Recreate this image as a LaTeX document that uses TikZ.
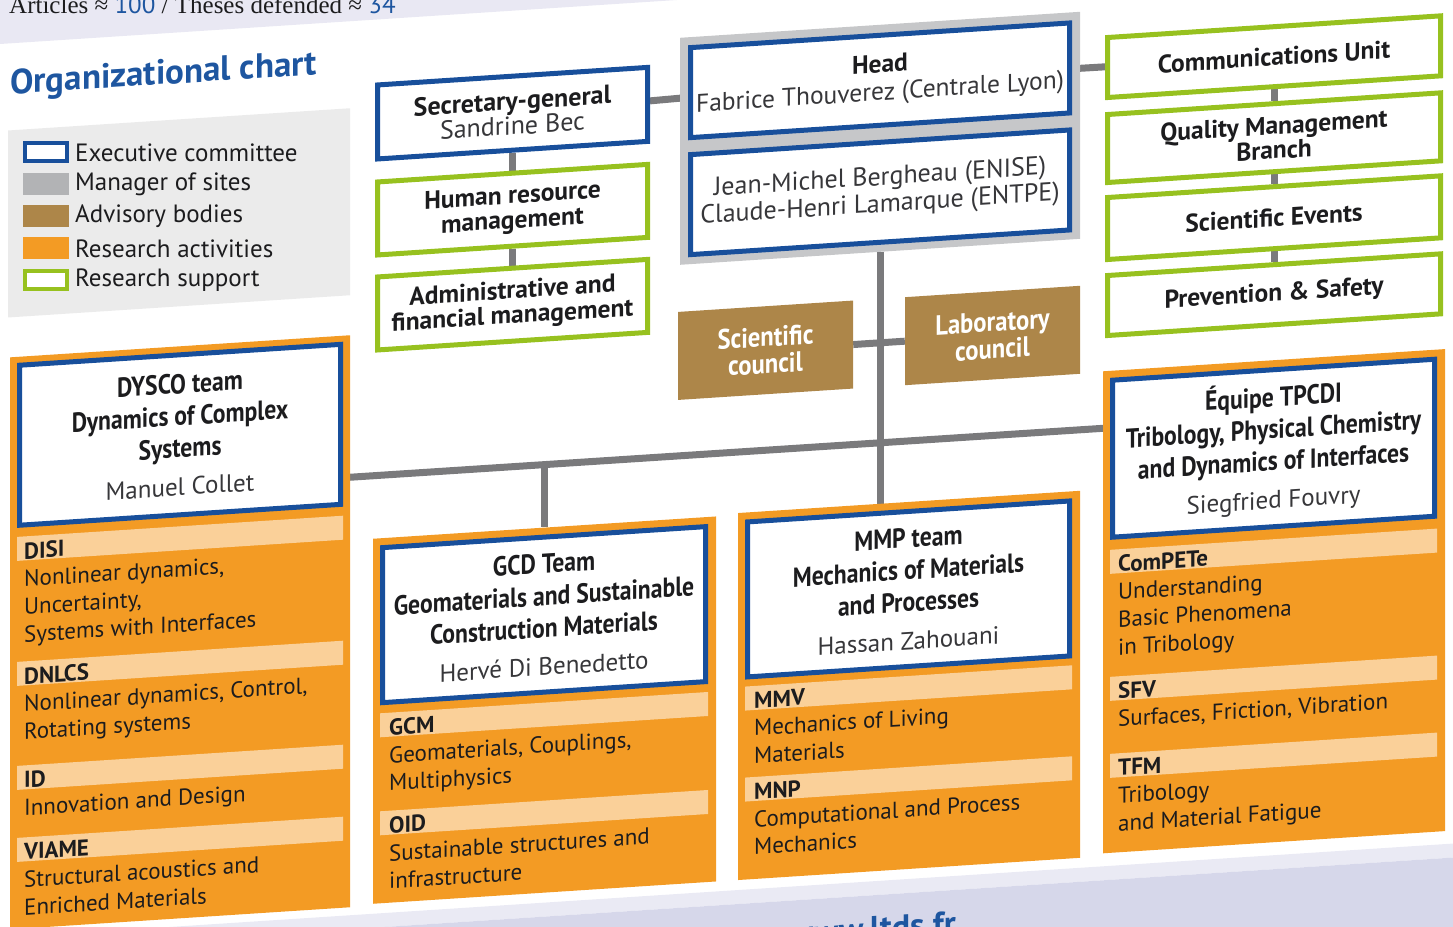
\documentclass[tikz,border=0pt]{standalone}
\usepackage{fontspec}
\setmainfont{PT Sans}
\newfontfamily\condfont{PT Sans}[FakeStretch=0.86]
\newfontfamily\headfont{PT Sans}[FakeStretch=0.88]
\newfontfamily\pageserif{Liberation Serif}
\usetikzlibrary{backgrounds}

\definecolor{ltdsblue}{RGB}{24,79,155}
\definecolor{titleblue}{RGB}{30,86,160}
\definecolor{supgreen}{RGB}{151,193,31}
\definecolor{sitegray}{RGB}{198,199,201}
\definecolor{siteswatch}{RGB}{178,179,181}
\definecolor{advbrown}{RGB}{173,134,73}
\definecolor{resorange}{RGB}{243,155,36}
\definecolor{bandorange}{RGB}{250,208,153}
\definecolor{linkgray}{RGB}{122,122,124}
\definecolor{legendbg}{RGB}{235,235,235}
\definecolor{topband}{RGB}{233,232,243}
\definecolor{botlight}{RGB}{234,234,244}
\definecolor{botband}{RGB}{214,215,234}
\definecolor{inkdark}{RGB}{28,28,30}
\definecolor{namegray}{RGB}{55,55,58}

\newcommand{\personfont}{\normalfont\fontsize{25}{30}\selectfont\color{namegray}}

\tikzset{
  execbox/.style={draw=ltdsblue, line width=5pt, fill=white, align=center, text=inkdark, inner sep=0pt},
  supbox/.style={draw=supgreen, line width=5pt, fill=white, align=center, text=inkdark, inner sep=0pt,
    font=\bfseries\fontsize{25.5}{25}\selectfont},
  advbox/.style={fill=advbrown, text=white, align=center, inner sep=0pt, minimum width=175pt,
    minimum height=88pt, font=\headfont\bfseries\fontsize{28}{27}\selectfont},
  teampanel/.style={fill=resorange, inner sep=0pt},
  teambox/.style={execbox, font=\condfont\bfseries\fontsize{27.5}{32}\selectfont},
  teamband/.style={fill=bandorange, inner sep=0pt, minimum height=24pt},
  teamtext/.style={anchor=north west, align=left, inner sep=0pt, text=inkdark,
    font=\fontsize{23}{27.7}\selectfont},
  swatch/.style={minimum width=46pt, minimum height=22pt, inner sep=0pt},
  legendtext/.style={anchor=west, inner sep=0pt, text=inkdark, font=\fontsize{25}{27}\selectfont},
  link/.style={draw=linkgray, line width=7pt},
}

\begin{document}
\begin{tikzpicture}[x=1pt, y=-1pt]
  \useasboundingbox (0,0) rectangle (1453,926);
  \clip (0,0) rectangle (1453,926);

  \begin{scope}[yslant=0.065, transform shape]
    % page bands
    \fill[topband] (0,-120) rectangle (1453,44);
    \fill[botlight] (0,938) rectangle (1453,952);
    \fill[botband] (0,952) rectangle (1453,1100);
    \node[anchor=base, inner sep=0pt, text=titleblue, font=\bfseries\fontsize{34}{36}\selectfont] (web) at (872,997) {www.ltds.fr};

    % title and legend panel
    \node[anchor=base west, inner sep=0pt, text=titleblue, font=\bfseries\fontsize{35}{36}\selectfont] (title) at (10,95) {Organizational chart};
    \fill[legendbg] (8,131) rectangle (350,318);

    % secretary and support
    \node[execbox, minimum width=270pt, minimum height=74pt, font=\fontsize{26}{25}\selectfont] (sec) at (512.5,146.5) {\textbf{Secretary-general}\\{\color{namegray}Sandrine Bec}};
    \node[supbox, minimum width=270pt, minimum height=73pt] (hrm) at (512.5,243) {Human resource\\management};
    \node[supbox, minimum width=270pt, minimum height=73pt] (afm) at (512.5,338) {Administrative and\\financial management};

    % head
    \node[fill=sitegray, inner sep=0pt, minimum width=400pt, minimum height=227pt] (headgrp) at (880,195.5) {};
    \node[execbox, minimum width=379pt, minimum height=90pt, font=\fontsize{25.5}{28}\selectfont] (head) at (880,137.5) {\textbf{Head}\\{\color{namegray}Fabrice Thouverez (Centrale Lyon)}};
    \node[execbox, minimum width=379pt, minimum height=100pt, font=\fontsize{26}{27}\selectfont, text=namegray] (deputy) at (880,249.5) {Jean-Michel Bergheau (ENISE)\\Claude-Henri Lamarque (ENTPE)};

    % councils
    \node[advbox] (scicl) at (765.5,400) {Scientific\\council};
    \node[advbox] (labcl) at (992.5,400) {Laboratory\\council};

    % right support column
    \node[supbox, minimum width=333pt, minimum height=60pt] (comm) at (1274,139.5) {Communications Unit};
    \node[supbox, minimum width=333pt, minimum height=68pt, font=\bfseries\fontsize{25.5}{22}\selectfont] (qual) at (1274,220.5) {Quality Management\\Branch};
    \node[supbox, minimum width=333pt, minimum height=62pt] (events) at (1274,300.5) {Scientific Events};
    \node[supbox, minimum width=333pt, minimum height=60pt] (safety) at (1274,377.5) {Prevention \& Safety};

    % DYSCO
    \node[teampanel, minimum width=340pt, minimum height=572pt] (dysco) at (180,644) {};
    \node[teambox, minimum width=321pt, minimum height=160pt] (dysco box) at (180,446.5) {DYSCO team\\Dynamics of Complex\\Systems\\[6pt]\personfont Manuel Collet};
    \node[teamband, minimum width=326pt] (disi band) at (180,550) {};
    \node[teamband, minimum width=326pt] (dnlcs band) at (180,675) {};
    \node[teamband, minimum width=326pt] (id band) at (180,779) {};
    \node[teamband, minimum width=326pt] (viame band) at (180,851) {};
    \node[teamtext] (disi) at (24,544) {\textbf{DISI}\\Nonlinear dynamics,\\Uncertainty,\\Systems with Interfaces};
    \node[teamtext] (dnlcs) at (24,669) {\textbf{DNLCS}\\Nonlinear dynamics, Control,\\Rotating systems};
    \node[teamtext] (id) at (24,773) {\textbf{ID}\\Innovation and Design};
    \node[teamtext] (viame) at (24,845) {\textbf{VIAME}\\Structural acoustics and\\Enriched Materials};

    % GCD
    \node[teampanel, minimum width=343pt, minimum height=365pt] (gcd) at (544.5,745.5) {};
    \node[teambox, minimum width=323pt, minimum height=155pt] (gcd box) at (544,650) {GCD Team\\Geomaterials and Sustainable\\Construction Materials\\[6pt]\personfont Herv\'e Di Benedetto};
    \node[teamband, minimum width=328pt] (gcm band) at (544,750) {};
    \node[teamband, minimum width=328pt] (oid band) at (544,848) {};
    \node[teamtext] (gcm) at (389,744) {\textbf{GCM}\\Geomaterials, Couplings,\\Multiphysics};
    \node[teamtext] (oid) at (389,842) {\textbf{OID}\\Sustainable structures and\\infrastructure};

    % MMP
    \node[teampanel, minimum width=342pt, minimum height=367pt] (mmp) at (909,744.5) {};
    \node[teambox, minimum width=322pt, minimum height=155pt] (mmp box) at (908.5,648) {MMP team\\Mechanics of Materials\\and Processes\\[6pt]\personfont Hassan Zahouani};
    \node[teamband, minimum width=327pt] (mmv band) at (908.5,747) {};
    \node[teamband, minimum width=327pt] (mnp band) at (908.5,838) {};
    \node[teamtext] (mmv) at (754,741) {\textbf{MMV}\\Mechanics of Living\\Materials};
    \node[teamtext] (mnp) at (754,832) {\textbf{MNP}\\Computational and Process\\Mechanics};

    % TPCDI
    \node[teampanel, minimum width=342pt, minimum height=482pt] (tpcdi) at (1274,684) {};
    \node[teambox, minimum width=322pt, minimum height=157pt] (tpcdi box) at (1273.5,531) {\'Equipe TPCDI\\Tribology, Physical Chemistry\\and Dynamics of Interfaces\\[6pt]\personfont Siegfried Fouvry};
    \node[teamband, minimum width=327pt] (compete band) at (1273.5,634) {};
    \node[teamband, minimum width=327pt] (sfv band) at (1273.5,761) {};
    \node[teamband, minimum width=327pt] (tfm band) at (1273.5,838) {};
    \node[teamtext] (compete) at (1118,628) {\textbf{ComPETe}\\Understanding\\Basic Phenomena\\in Tribology};
    \node[teamtext] (sfv) at (1118,755) {\textbf{SFV}\\Surfaces, Friction, Vibration};
    \node[teamtext] (tfm) at (1118,832) {\textbf{TFM}\\Tribology\\and Material Fatigue};

    \coordinate (bus west) at (180,500);
    \coordinate (bus east) at (1274,500);
    \coordinate (bus gcd) at (544.5,500);

    % links
    \begin{pgfonlayer}{background}
      \draw[link] (sec) -- (head);
      \draw[link] (sec) -- (hrm);
      \draw[link] (hrm) -- (afm);
      \draw[link] (head) -- (comm);
      \draw[link] (comm) -- (qual);
      \draw[link] (qual) -- (events);
      \draw[link] (events) -- (safety);
      \draw[link] (scicl) -- (labcl);
      \draw[link] (headgrp) -- (headgrp |- mmp);
      \draw[link] (bus west) -- (bus east);
      \draw[link] (bus gcd) -- (gcd);
    \end{pgfonlayer}
  \end{scope}

  % legend entries (not slanted)
  \node[swatch, draw=ltdsblue, line width=4pt, fill=white, minimum width=42pt, minimum height=18pt] (lg exec) at (46,151.5) {};
  \node[swatch, fill=siteswatch] (lg site) at (46,183.5) {};
  \node[swatch, fill=advbrown] (lg adv) at (46,215.5) {};
  \node[swatch, fill=resorange] (lg res) at (46,247.5) {};
  \node[swatch, draw=supgreen, line width=4pt, fill=white, minimum width=42pt, minimum height=18pt] (lg sup) at (46,279.5) {};
  \node[legendtext] (lt exec) at (75,152.5) {Executive committee};
  \node[legendtext] (lt site) at (75,184.5) {Manager of sites};
  \node[legendtext] (lt adv) at (75,216.5) {Advisory bodies};
  \node[legendtext] (lt res) at (75,248.5) {Research activities};
  \node[legendtext] (lt sup) at (75,280.5) {Research support};

  \node[anchor=base west, inner sep=0pt, text=inkdark, font=\pageserif\fontsize{25}{26}\selectfont] (stats) at (9,13) {Articles ≈ {\normalfont\color{titleblue}100} / Theses defended ≈ {\normalfont\color{titleblue}34}};
\end{tikzpicture}
\end{document}
